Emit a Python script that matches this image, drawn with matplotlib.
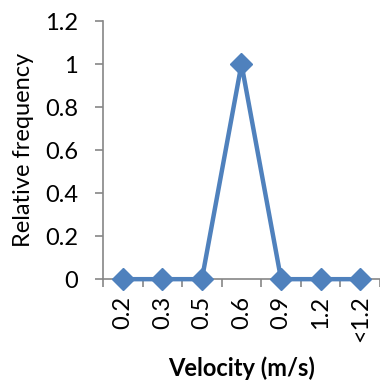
import matplotlib.pyplot as plt

# velocity classes and relative frequency
categories = ['0.2', '0.3', '0.5', '0.6', '0.9', '1.2', '<1.2']
freq = [0, 0, 0, 1, 0, 0, 0]
yticks = [0, 0.2, 0.4, 0.6, 0.8, 1, 1.2]
ytick_labels = ['0', '0.2', '0.4', '0.6', '0.8', '1', '1.2']

plt.rcParams['font.family'] = ['Lato', 'DejaVu Sans']

fig = plt.figure(figsize=[3.8, 3.84], dpi=100)
ax = fig.add_axes([0.271, 0.273, 0.729, 0.672])

x = list(range(len(categories)))
ax.plot(x, freq, color='#4F81BD', linewidth=3.2, marker='D', markersize=11,
        clip_on=False, zorder=3)

ax.set_xlim(-0.5, len(categories) - 0.5)
ax.set_ylim(0, 1.2)
ax.set_yticks(yticks)
ax.set_yticklabels(ytick_labels, fontsize=17)

# Excel style: labels at categories, tick marks between them
ax.set_xticks(x)
ax.set_xticklabels(categories, rotation=90, fontsize=17)
ax.tick_params(axis='x', length=0, pad=12)
ax.set_xticks([i - 0.5 for i in range(len(categories) + 1)], minor=True)
ax.tick_params(axis='x', which='minor', length=6, color='#868686', width=1.2)
ax.tick_params(axis='y', length=6, color='#868686', width=1.2, pad=12)

for s in ['top', 'right']:
    ax.spines[s].set_visible(False)
for s in ['left', 'bottom']:
    ax.spines[s].set_color('#868686')
    ax.spines[s].set_linewidth(1.2)

ax.set_ylabel('Relative frequency', fontsize=17, labelpad=8)
ax.set_xlabel('Velocity (m/s)', fontsize=17, fontweight='bold', labelpad=10)

fig.savefig('out.png', dpi=100)
